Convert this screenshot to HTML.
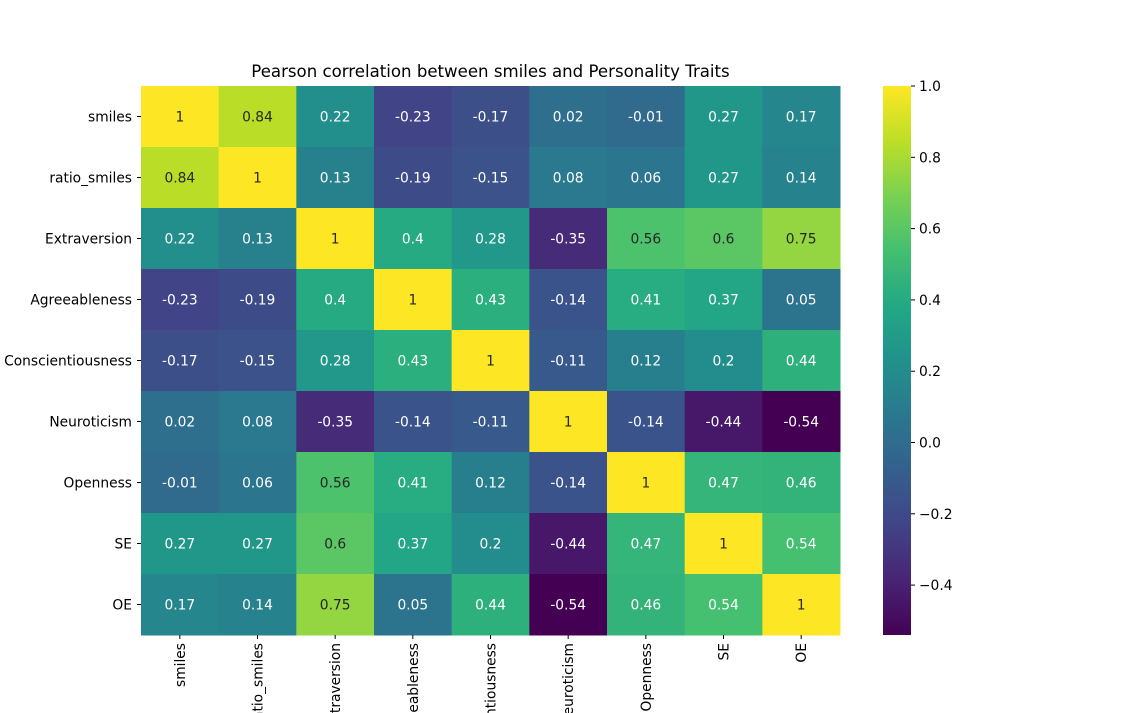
<!DOCTYPE html>
<html><head><meta charset="utf-8">
<style>
html,body{margin:0;background:#fff;width:1127px;height:713px;overflow:hidden;}
svg text{font-family:"DejaVu Sans","Liberation Sans",sans-serif;}
</style></head>
<body>
<svg id="chart" width="1127" height="713" viewBox="0 0 1127 713" xmlns="http://www.w3.org/2000/svg" style="display:block;overflow:hidden">
<defs><linearGradient id="cbgrad" x1="0" y1="1" x2="0" y2="0"></linearGradient></defs>
<text x="490.5" y="77" text-anchor="middle" font-size="16.6">Pearson correlation between smiles and Personality Traits</text>
<g id="cells"></g>
<g id="ylabels"></g>
<g id="xlabels"></g>
<g id="colorbar"></g>
</svg>
<script>
const labels = ["smiles","ratio_smiles","Extraversion","Agreeableness","Conscientiousness","Neuroticism","Openness","SE","OE"];
const row0 = [1,0.84,0.22,-0.23,-0.17,0.02,-0.01,0.27,0.17];
const row1 = [0.84,1,0.13,-0.19,-0.15,0.08,0.06,0.27,0.14];
const row2 = [0.22,0.13,1,0.4,0.28,-0.35,0.56,0.6,0.75];
const row3 = [-0.23,-0.19,0.4,1,0.43,-0.14,0.41,0.37,0.05];
const row4 = [-0.17,-0.15,0.28,0.43,1,-0.11,0.12,0.2,0.44];
const row5 = [0.02,0.08,-0.35,-0.14,-0.11,1,-0.14,-0.44,-0.54];
const row6 = [-0.01,0.06,0.56,0.41,0.12,-0.14,1,0.47,0.46];
const row7 = [0.27,0.27,0.6,0.37,0.2,-0.44,0.47,1,0.54];
const row8 = [0.17,0.14,0.75,0.05,0.44,-0.54,0.46,0.54,1];
const matrix = [row0,row1,row2,row3,row4,row5,row6,row7,row8];
const cbTicks = [-0.4,-0.2,0.0,0.2,0.4,0.6,0.8,1.0];

const NS="http://www.w3.org/2000/svg";
const X0=141,X1=840,Y0=86,Y1=635;
let vmin=Infinity,vmax=-Infinity;
matrix.forEach(r=>r.forEach(v=>{vmin=Math.min(vmin,v);vmax=Math.max(vmax,v);}));
const n=labels.length, cw=(X1-X0)/n, ch=(Y1-Y0)/n;
const vir=["#440154","#482475","#414487","#355f8d","#2a788e","#21918c","#22a884","#44bf70","#7ad151","#bddf26","#fde725"].map(h=>[1,3,5].map(i=>parseInt(h.substr(i,2),16)));
function rgb(v){let t=(v-vmin)/(vmax-vmin);t=Math.max(0,Math.min(1,t))*10;const i=Math.min(9,Math.floor(t)),f=t-i;return vir[i].map((c,k)=>c+(vir[i+1][k]-c)*f);}
function css(c){return `rgb(${c.map(Math.round).join(',')})`;}
function lum(c){const l=c.map(x=>{x/=255;return x<=0.03928?x/12.92:Math.pow((x+0.055)/1.055,2.4);});return 0.2126*l[0]+0.7152*l[1]+0.0722*l[2];}
function mk(tag,attrs,parent){const e=document.createElementNS(NS,tag);for(const k in attrs)e.setAttribute(k,attrs[k]);parent.appendChild(e);return e;}
const cells=document.getElementById('cells');
matrix.forEach((r,i)=>r.forEach((v,j)=>{
  const c=rgb(v);
  const rect=mk('rect',{x:X0+j*cw,y:Y0+i*ch,width:cw+0.5,height:ch+0.5,fill:css(c)},cells);
  
  
  const t=mk('text',{x:X0+(j+0.5)*cw,y:Y0+(i+0.5)*ch+5,'text-anchor':'middle','font-size':'13.8',fill:lum(c)>0.408?'#262626':'#ffffff'},cells);
  t.textContent=String(v);
  
  
}));
const yl=document.getElementById('ylabels'), xl=document.getElementById('xlabels');
labels.forEach((l,i)=>{
  const y=Y0+(i+0.5)*ch;
  mk('line',{x1:X0-4,x2:X0,y1:y,y2:y,stroke:'#000','stroke-width':1},yl);
  const t=mk('text',{x:X0-9,y:y+5,'text-anchor':'end','font-size':'13.8'},yl);
  t.textContent=l;
  
  
  const x=X0+(i+0.5)*cw;
  mk('line',{x1:x,x2:x,y1:Y1,y2:Y1+4,stroke:'#000','stroke-width':1},xl);
  const tx=mk('text',{x:0,y:0,'text-anchor':'end','font-size':'13.8',transform:`translate(${x+5},${Y1+8}) rotate(-90)`},xl);
  tx.textContent=l;
  
  
});
const CB0=883,CB1=911;
const grad=document.getElementById('cbgrad');
for(let k=0;k<=20;k++){const v=vmin+(vmax-vmin)*k/20;mk('stop',{offset:(k/20),'stop-color':css(rgb(v))},grad);}
const cb=document.getElementById('colorbar');
const cbr=mk('rect',{x:CB0,y:Y0,width:CB1-CB0,height:Y1-Y0,fill:'url(#cbgrad)'},cb);


const cy=v=>Y1-(v-vmin)/(vmax-vmin)*(Y1-Y0);
cbTicks.forEach(v=>{
  const y=cy(v);
  mk('line',{x1:CB1,x2:CB1+4,y1:y,y2:y,stroke:'#000','stroke-width':1},cb);
  const t=mk('text',{x:CB1+8,y:y+5,'font-size':'13.8'},cb);
  t.textContent=(v<0?'\u2212':'')+Math.abs(v).toFixed(1);
  
  
});
</script>
</body></html>
